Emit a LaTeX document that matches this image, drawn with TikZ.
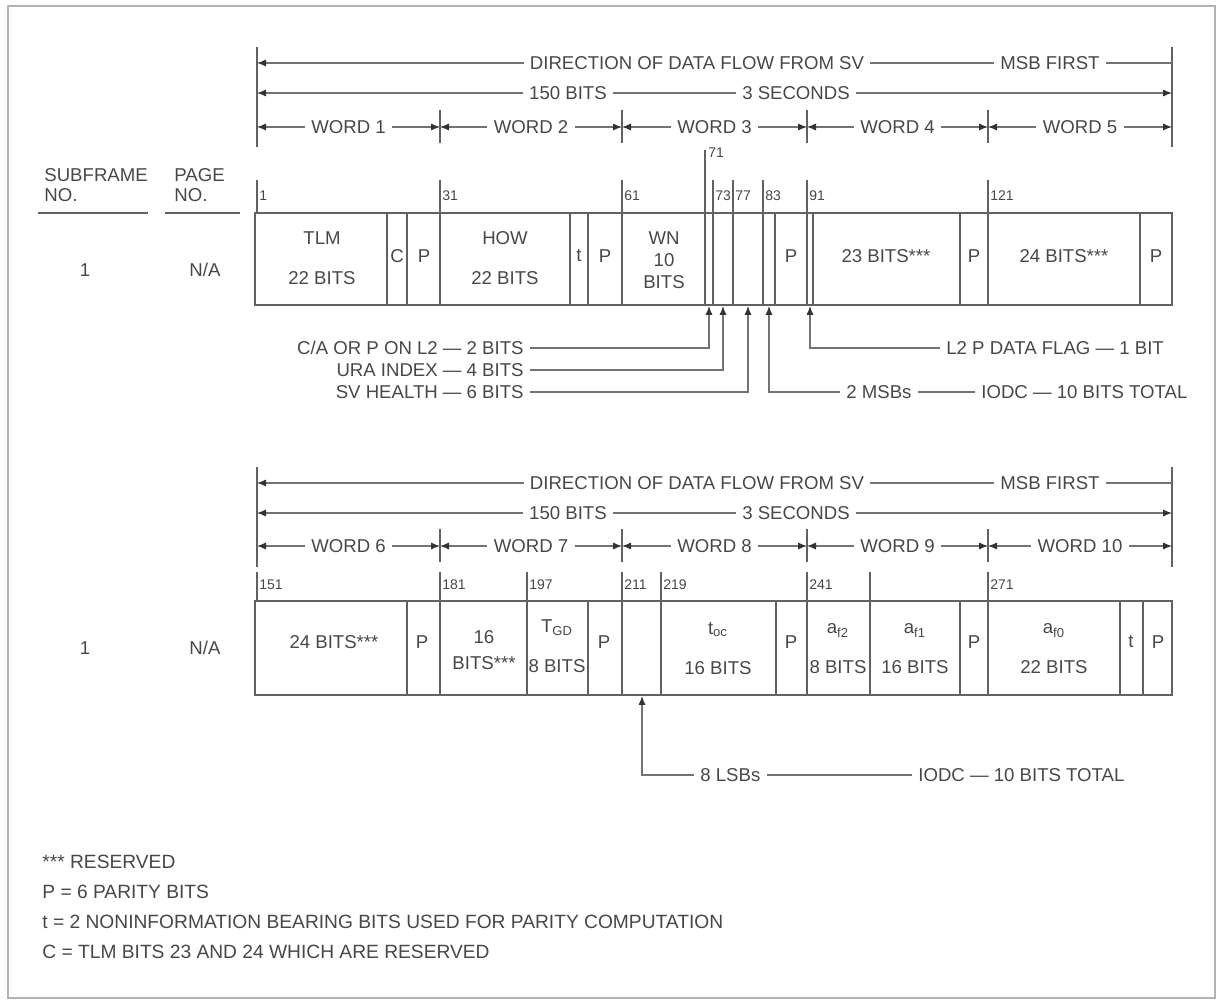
\documentclass[tikz,border=0pt]{standalone}
\usepackage{fontspec}
\setmainfont{Liberation Sans}
\usetikzlibrary{arrows.meta}

\begin{document}
\begin{tikzpicture}[
  x=0.5pt, y=-0.5pt,
  font=\fontsize{9.3}{11}\selectfont,
  every node/.style = {text=black!72, inner sep=1pt},
  frame/.style    = {draw=black!30, line width=0.6pt},
  boxline/.style  = {draw=black!62, line width=0.75pt},
  tick/.style     = {draw=black!62, line width=0.6pt},
  dimline/.style  = {draw=black!55, line width=0.6pt},
  dimarr/.style   = {dimline, -{Latex[length=4.5pt,width=3.6pt,color=black!80]}},
  upar/.style     = {dimline, -{Latex[length=4.5pt,width=3.6pt,color=black!80]}},
  dimtxt/.style   = {inner sep=3pt},
  bitno/.style    = {font=\fontsize{7}{8}\selectfont, anchor=west, inner sep=0.5pt},
  fld/.style      = {align=center, font=\fontsize{9.3}{11}\selectfont},
  hdr/.style      = {align=left, anchor=south west, font=\fontsize{9.3}{10}\selectfont},
  note/.style     = {anchor=west, font=\fontsize{9.6}{11}\selectfont},
]
\useasboundingbox (0,0) rectangle (1223,1005);
\draw[frame] (8,6) rectangle (1215,998);

% --- subframe 1 : data flow rulers ---------------------------------------
\draw[tick] (257,47) -- (257,147);
\draw[tick] (1172,47) -- (1172,147);

\node[dimtxt] (flowA) at (697,63) {DIRECTION OF DATA FLOW FROM SV};
\node[dimtxt] (msbfA) at (1050,63) {MSB FIRST};
\coordinate (flowAL) at (257,63);
\coordinate (flowAR) at (1172,63);
\draw[dimarr] (flowA.west) -- (flowAL);
\draw[dimline] (flowA.east) -- (msbfA.west);
\draw[dimline] (msbfA.east) -- (flowAR);

\node[dimtxt] (bitsA) at (568,93) {150 BITS};
\node[dimtxt] (secA) at (796,93) {3 SECONDS};
\coordinate (bitsAL) at (257,93);
\coordinate (bitsAR) at (1172,93);
\draw[dimarr] (bitsA.west) -- (bitsAL);
\draw[dimline] (bitsA.east) -- (secA.west);
\draw[dimarr] (secA.east) -- (bitsAR);

\foreach \a/\b/\n in {257/440/1, 440/622/2, 622/807/3, 807/988/4, 988/1172/5} {
  \node[dimtxt] (wd\n) at ({(\a+\b)/2},127) {WORD \n};
  \coordinate (wdL\n) at (\a,127);
  \coordinate (wdR\n) at (\b,127);
  \draw[dimarr] (wd\n.west) -- (wdL\n);
  \draw[dimarr] (wd\n.east) -- (wdR\n);
}
\foreach \x in {440,622,807,988} \draw[tick] (\x,110) -- (\x,143);

% --- subframe 1 : headers -------------------------------------------------
\node[hdr] (sfhdr) at (42,204) {SUBFRAME\\NO.};
\node[hdr] (pghdr) at (172,204) {PAGE\\NO.};
\draw[tick] (38,213) -- (148,213);
\draw[tick] (165,213) -- (240,213);
\node (sfA) at (85,270) {1};
\node (pgA) at (205,270) {N/A};

% --- subframe 1 : words 1-5 ----------------------------------------------
\draw[boxline] (255,213) rectangle (1172,305);
\foreach \x in {387,407,440,570,588,622,705,713,733,763,775,807,813,960,988,1140}
  \draw[boxline] (\x,213) -- (\x,305);

\foreach \x/\t in {257/1, 440/31, 622/61, 713/73, 733/77, 763/83, 807/91, 988/121} {
  \draw[tick] (\x,180) -- (\x,213);
  \node[bitno] (bA\t) at (\x+1,196) {\t};
}
\draw[tick] (705,150) -- (705,213);
\node[bitno] (bA71) at (707,153) {71};

\node[fld] (tlm) at (322,258) {TLM\\[9pt]22 BITS};
\node[fld] (tlmC) at (397,256) {C};
\node[fld] (tlmP) at (424,256) {P};
\node[fld] (how) at (505,258) {HOW\\[9pt]22 BITS};
\node[fld] (howt) at (579,256) {t};
\node[fld] (howP) at (605,256) {P};
\node[fld] (wn) at (664,260) {WN\\10\\BITS};
\node[fld] (wdP3) at (791,256) {P};
\node[fld] (res4) at (886,256) {23 BITS***};
\node[fld] (wdP4) at (974,256) {P};
\node[fld] (res5) at (1064,256) {24 BITS***};
\node[fld] (wdP5) at (1156,256) {P};

% --- subframe 1 : field call-outs ----------------------------------------
\node[dimtxt, anchor=east] (capl2) at (530,348) {C/A OR P ON L2 — 2 BITS};
\node[dimtxt, anchor=east] (ura) at (530,370) {URA INDEX — 4 BITS};
\node[dimtxt, anchor=east] (svh) at (530,392) {SV HEALTH — 6 BITS};
\node[dimtxt, anchor=west] (l2p) at (940,348) {L2 P DATA FLAG — 1 BIT};
\node[dimtxt, anchor=west] (msbs) at (840,392) {2 MSBs};
\node[dimtxt, anchor=west] (iodcA) at (975,392) {IODC — 10 BITS TOTAL};

\coordinate (pCA) at (709,306);
\coordinate (pURA) at (723,306);
\coordinate (pSVH) at (748,306);
\coordinate (pMSB) at (769,306);
\coordinate (pL2P) at (810,306);
\draw[upar] (capl2.east) -| (pCA);
\draw[upar] (ura.east) -| (pURA);
\draw[upar] (svh.east) -| (pSVH);
\draw[upar] (l2p.west) -| (pL2P);
\draw[upar] (msbs.west) -| (pMSB);
\draw[dimline] (msbs.east) -- (iodcA.west);

% --- subframe 1 (cont.) : data flow rulers -------------------------------
\draw[tick] (257,467) -- (257,567);
\draw[tick] (1172,467) -- (1172,567);

\node[dimtxt] (flowB) at (697,483) {DIRECTION OF DATA FLOW FROM SV};
\node[dimtxt] (msbfB) at (1050,483) {MSB FIRST};
\coordinate (flowBL) at (257,483);
\coordinate (flowBR) at (1172,483);
\draw[dimarr] (flowB.west) -- (flowBL);
\draw[dimline] (flowB.east) -- (msbfB.west);
\draw[dimline] (msbfB.east) -- (flowBR);

\node[dimtxt] (bitsB) at (568,513) {150 BITS};
\node[dimtxt] (secB) at (796,513) {3 SECONDS};
\coordinate (bitsBL) at (257,513);
\coordinate (bitsBR) at (1172,513);
\draw[dimarr] (bitsB.west) -- (bitsBL);
\draw[dimline] (bitsB.east) -- (secB.west);
\draw[dimarr] (secB.east) -- (bitsBR);

\foreach \a/\b/\n in {257/440/6, 440/622/7, 622/807/8, 807/988/9, 988/1172/10} {
  \node[dimtxt] (wd\n) at ({(\a+\b)/2},546) {WORD \n};
  \coordinate (wdL\n) at (\a,546);
  \coordinate (wdR\n) at (\b,546);
  \draw[dimarr] (wd\n.west) -- (wdL\n);
  \draw[dimarr] (wd\n.east) -- (wdR\n);
}
\foreach \x in {440,622,807,988} \draw[tick] (\x,529) -- (\x,562);

\node (sfB) at (85,648) {1};
\node (pgB) at (205,648) {N/A};

% --- subframe 1 (cont.) : words 6-10 -------------------------------------
\draw[boxline] (255,601) rectangle (1172,695);
\foreach \x in {407,440,527,588,622,661,776,807,870,960,988,1120,1143}
  \draw[boxline] (\x,601) -- (\x,695);

\foreach \x/\t in {257/151, 440/181, 527/197, 622/211, 661/219, 807/241, 988/271} {
  \draw[tick] (\x,572) -- (\x,601);
  \node[bitno] (bB\t) at (\x+1,585) {\t};
}
\draw[tick] (870,572) -- (870,601);

\node[fld] (res6) at (334,642) {24 BITS***};
\node[fld] (wdP6) at (422,642) {P};
\node[fld] (res7) at (484,650) {16\\[2pt]BITS***};
\node[fld] (tgd) at (557,646) {T\textsubscript{GD}\\[9pt]8 BITS};
\node[fld] (wdP7) at (604,642) {P};
\node[fld] (toc) at (718,649) {t\textsubscript{oc}\\[9pt]16 BITS};
\node[fld] (wdP8) at (791,642) {P};
\node[fld] (af2) at (838,649) {a\textsubscript{f2}\\[9pt]8 BITS};
\node[fld] (af1) at (915,649) {a\textsubscript{f1}\\[9pt]16 BITS};
\node[fld] (wdP9) at (974,642) {P};
\node[fld] (af0) at (1054,649) {a\textsubscript{f0}\\[9pt]22 BITS};
\node[fld] (wdt10) at (1131,642) {t};
\node[fld] (wdP10) at (1158,642) {P};

% --- subframe 1 (cont.) : IODC LSB call-out ------------------------------
\node[dimtxt, anchor=west] (lsbs) at (694,775) {8 LSBs};
\node[dimtxt, anchor=west] (iodcB) at (912,775) {IODC — 10 BITS TOTAL};
\coordinate (pLSB) at (642,696);
\draw[upar] (lsbs.west) -| (pLSB);
\draw[dimline] (lsbs.east) -- (iodcB.west);

% --- legend ----------------------------------------------------------------
\node[note] (nres) at (40,862) {*** RESERVED};
\node[note] (npar) at (40,892) {P = 6 PARITY BITS};
\node[note] (nt) at (40,922) {t = 2 NONINFORMATION BEARING BITS USED FOR PARITY COMPUTATION};
\node[note] (nc) at (40,952) {C = TLM BITS 23 AND 24 WHICH ARE RESERVED};

\end{tikzpicture}
\end{document}
